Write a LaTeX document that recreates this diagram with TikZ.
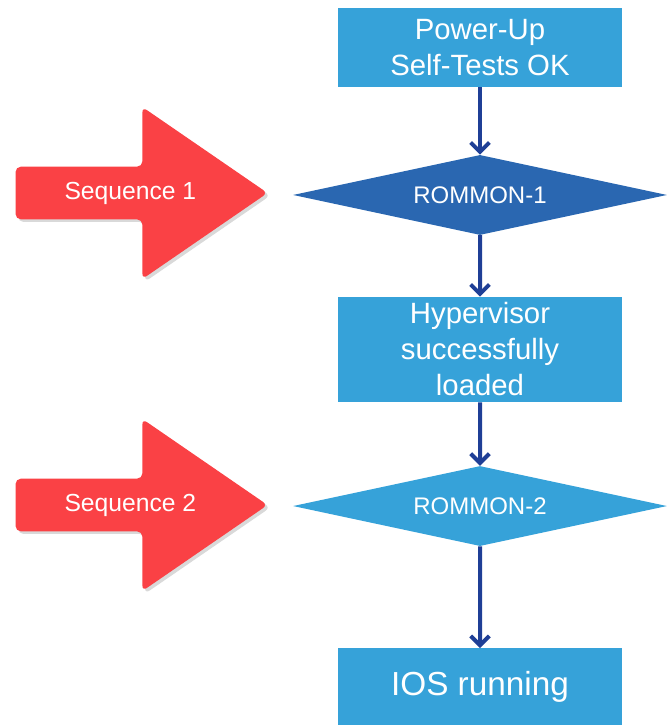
\documentclass[tikz,border=0pt]{standalone}
\usepackage{fontspec}
\setmainfont{Liberation Sans}
\usepackage{tikz}
\tikzset{x=.75pt,y=-.75pt}
\usetikzlibrary{shapes.geometric, shapes.arrows, shadows, arrows.meta}
\definecolor{boxblue}{RGB}{54,162,217}
\definecolor{romblue}{RGB}{42,103,177}
\definecolor{linkblue}{RGB}{31,63,150}
\definecolor{seqred}{RGB}{250,65,69}
\tikzset{
  stepbox/.style={rectangle, fill=boxblue, text=white, minimum width=213pt,
    align=center, inner sep=0pt, font=\fontsize{22}{27}\selectfont},
  rombox/.style={diamond, aspect=4.675, text=white, minimum width=280.5pt, minimum height=60pt,
    inner sep=0pt, font=\fontsize{18}{22}\selectfont},
  seqarrow/.style={single arrow, fill=seqred, text=white, minimum height=189pt,
    minimum width=129pt, single arrow head extend=27pt, single arrow tip angle=69,
    rounded corners=4pt, font=\fontsize{18.5}{22}\selectfont,
    drop shadow={opacity=.3, shadow xshift=2pt, shadow yshift=-2pt}},
  flowarrow/.style={line width=3pt, draw=linkblue,
    -{Straight Barb[length=7pt,width=14pt]}}
}

\begin{document}
\begin{tikzpicture}[level 1/.style={level distance=110.6pt},
  level 2/.style={level distance=115.9pt},
  level 3/.style={level distance=117.4pt},
  level 4/.style={level distance=135.75pt}]
\useasboundingbox (0,0) rectangle (667,725);
    \node[stepbox, minimum height=59.25pt] (powerup) at (480,47.5) %root
    {Power-Up\\Self-Tests OK}
      % first rommon
      child {
        node[rombox, fill=romblue] (rommon1) {ROMMON-1}
        child {
          node[stepbox, minimum height=78.75pt] (hypervisor) {Hypervisor\\successfully\\loaded}
          % second rommon
          child {
            node[rombox, fill=boxblue] (rommon2) {ROMMON-2}
            child {
              node[stepbox, minimum height=58pt, font=\fontsize{25}{30}\selectfont] (ios) {IOS running}
              edge from parent[flowarrow]
            }
            edge from parent[flowarrow]
          }
          edge from parent[flowarrow]
        }
        edge from parent[flowarrow]
      };
    % sequence arrows
    \node[seqarrow, anchor=tip] (seq1) at (268,193) {\hspace*{12pt}Sequence 1};
    \node[seqarrow, anchor=tip] (seq2) at (268,505) {\hspace*{12pt}Sequence 2};
\end{tikzpicture}
\end{document}
